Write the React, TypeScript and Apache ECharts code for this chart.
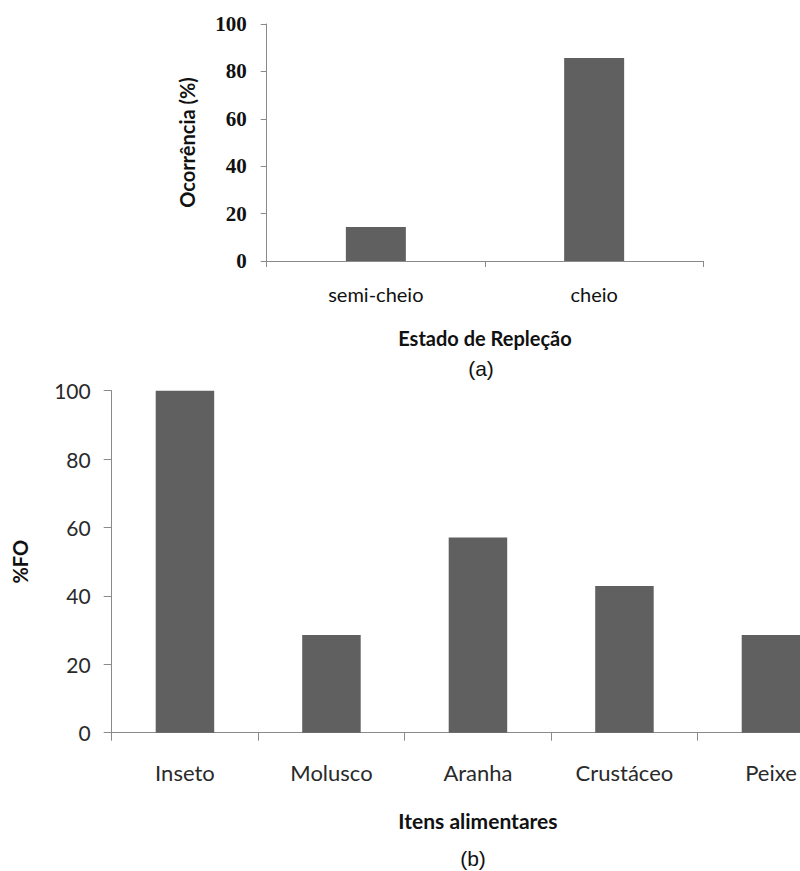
import React, { useEffect, useRef } from "react";
import * as echarts from "echarts";

const catsA = ["semi-cheio", "cheio"];
const valsA = [14.3, 85.7];
const catsB = ["Inseto", "Molusco", "Aranha", "Crustáceo", "Peixe"];
const valsB = [100, 28.6, 57.1, 42.9, 28.6];

const BAR = "#606060";
const AX = "#8a8a8a";
const SANS = "Lato";

export default function App() {
  const ref = useRef<HTMLDivElement>(null);
  useEffect(() => {
    const chart = echarts.init(ref.current!, null, { renderer: "svg" });
    chart.setOption({
      animation: false,
      backgroundColor: "#ffffff",
      grid: [
        { left: 266.7, top: 24, width: 436.6, height: 237 },
        { left: 111.7, top: 390.7, width: 732.5, height: 342 },
      ],
      xAxis: [
        {
          type: "category",
          gridIndex: 0,
          data: catsA,
          axisLine: { show: true, lineStyle: { color: AX, width: 1 } },
          axisTick: { show: true, length: 6, lineStyle: { color: AX } },
          axisLabel: { margin: 23, fontFamily: SANS, fontSize: 20, color: "#111" },
          name: "Estado de Repleção",
          nameLocation: "middle",
          nameGap: 67,
          nameTextStyle: { fontFamily: SANS, fontWeight: "bold", fontSize: 20, color: "#111" },
        },
        {
          type: "category",
          gridIndex: 1,
          data: catsB,
          axisLine: { show: true, lineStyle: { color: AX, width: 1 } },
          axisTick: { show: true, length: 8, lineStyle: { color: AX } },
          axisLabel: { margin: 29, fontFamily: SANS, fontSize: 22, color: "#2a2a2a" },
          name: "Itens alimentares",
          nameLocation: "middle",
          nameGap: 77,
          nameTextStyle: { fontFamily: SANS, fontWeight: "bold", fontSize: 21, color: "#111" },
        },
      ],
      yAxis: [
        {
          type: "value",
          gridIndex: 0,
          min: 0,
          max: 100,
          interval: 20,
          splitLine: { show: false },
          axisLine: { show: true, lineStyle: { color: AX, width: 1 } },
          axisTick: { show: true, length: 6, lineStyle: { color: AX } },
          axisLabel: {
            margin: 20,
            fontFamily: "Liberation Serif",
            fontWeight: "bold",
            fontSize: 21,
            color: "#111",
          },
          name: "Ocorrência (%)",
          nameLocation: "middle",
          nameRotate: 90,
          nameGap: 70,
          nameTextStyle: { fontFamily: SANS, fontWeight: "bold", fontSize: 20, color: "#111" },
        },
        {
          type: "value",
          gridIndex: 1,
          min: 0,
          max: 100,
          interval: 20,
          splitLine: { show: false },
          axisLine: { show: true, lineStyle: { color: AX, width: 1 } },
          axisTick: { show: true, length: 8, lineStyle: { color: AX } },
          axisLabel: { margin: 21, fontFamily: SANS, fontSize: 21, color: "#2a2a2a" },
          name: "%FO",
          nameLocation: "middle",
          nameRotate: 90,
          nameGap: 82,
          nameTextStyle: { fontFamily: SANS, fontWeight: "bold", fontSize: 20, color: "#111" },
        },
      ],
      series: [
        {
          type: "bar",
          xAxisIndex: 0,
          yAxisIndex: 0,
          data: valsA,
          barWidth: 60,
          itemStyle: { color: BAR },
        },
        {
          type: "bar",
          xAxisIndex: 1,
          yAxisIndex: 1,
          data: valsB,
          barWidth: 58.5,
          itemStyle: { color: BAR },
        },
      ],
      graphic: [
        {
          type: "text",
          x: 481,
          y: 368,
          style: {
            text: "(a)",
            fontFamily: "Liberation Sans",
            fontSize: 21,
            fill: "#111",
            textAlign: "center",
            textVerticalAlign: "middle",
          },
        },
        {
          type: "text",
          x: 473,
          y: 858,
          style: {
            text: "(b)",
            fontFamily: "Liberation Sans",
            fontSize: 21,
            fill: "#111",
            textAlign: "center",
            textVerticalAlign: "middle",
          },
        },
      ],
    });
    return () => chart.dispose();
  }, []);
  return (
    <div
      style={{ position: "absolute", left: 0, top: 0, width: 800, height: 871, overflow: "hidden", background: "#fff" }}
    >
      <div ref={ref} style={{ width: 860, height: 871 }} />
    </div>
  );
}
